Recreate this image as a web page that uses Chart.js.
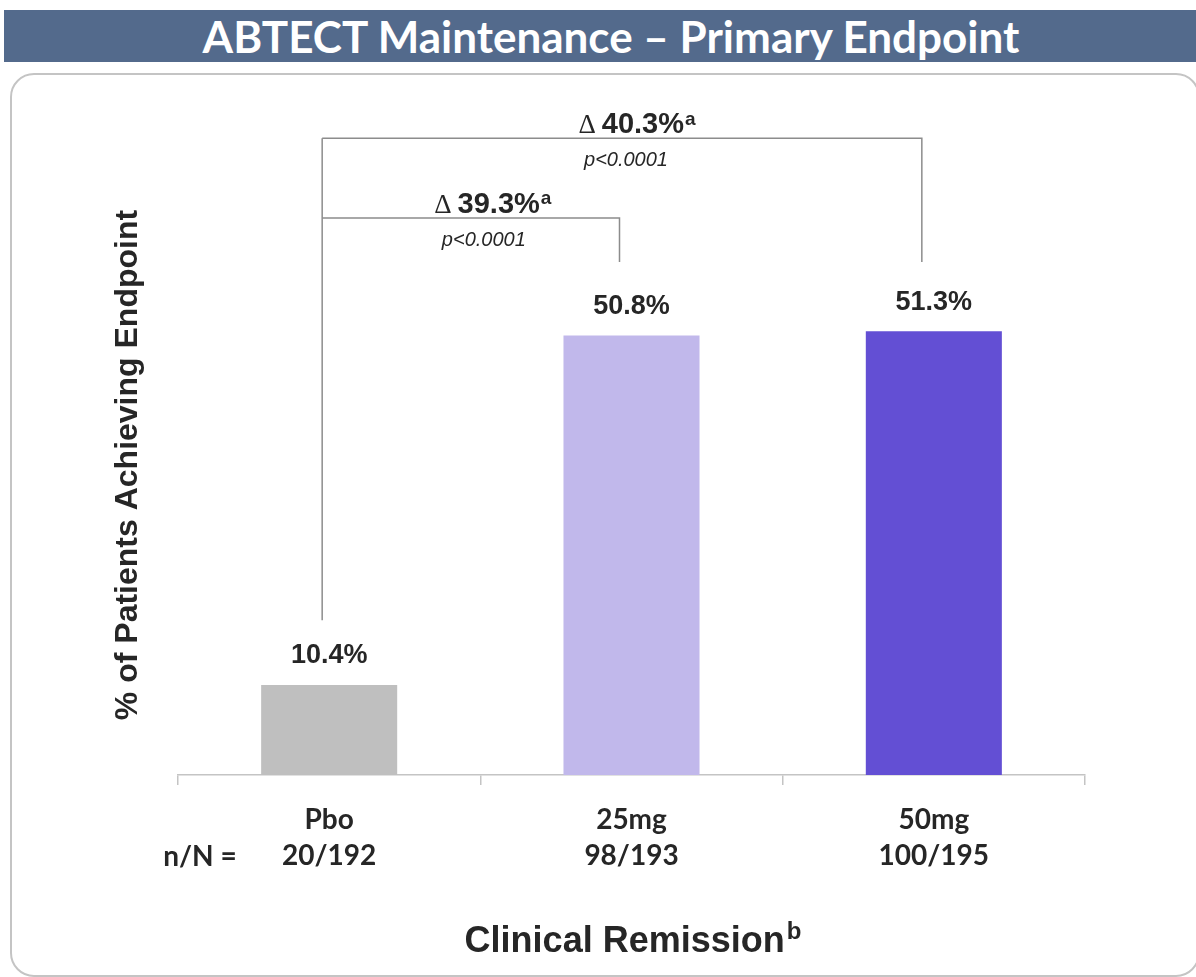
<!DOCTYPE html>
<html>
<head>
<meta charset="utf-8">
<script src="https://cdn.jsdelivr.net/npm/chart.js@4/dist/chart.umd.min.js"></script>
<style>
  body { margin: 0; width: 1196px; height: 977px; overflow: hidden; background: #fff; position: relative; }
  #bar { position: absolute; left: 4px; top: 10px; width: 1192px; height: 52px; background: #536a8c;
         color: #fff; font: bold 44px Lato, sans-serif; text-align: center; line-height: 52px;
         padding-left: 22px; box-sizing: border-box; }
  #panel { position: absolute; left: 10px; top: 73px; width: 1190px; height: 904px;
           border: 2px solid #c4c4c4; border-radius: 24px; box-sizing: border-box; }
  #wrap { position: absolute; left: 0; top: 0; width: 1196px; height: 977px; }
</style>
</head>
<body>
<div id="bar">ABTECT Maintenance – Primary Endpoint</div>
<div id="panel"></div>
<div id="wrap"><canvas id="render"></canvas></div>
<script>
const categories = ['Pbo', '25mg', '50mg'];
const counts = ['20/192', '98/193', '100/195'];
const remission = [10.4, 50.8, 51.3];
const barColors = ['#bfbfbf', '#c1b8eb', '#634fd4'];

// treatment comparisons vs placebo
const compareTo = [2, 1];
const deltas = ['40.3%', '39.3%'];
const pValues = ['p<0.0001', 'p<0.0001'];

const TEXT = '#262626';

const labelsPlugin = {
  id: 'labels',
  afterDatasetsDraw(chart) {
    const ctx = chart.ctx;
    const x = chart.scales.x, y = chart.scales.y;
    ctx.save();
    ctx.fillStyle = TEXT;
    ctx.textAlign = 'center';
    ctx.textBaseline = 'middle';

    // values above the bars
    ctx.font = 'bold 27px "Liberation Sans", Arial, sans-serif';
    chart.getDatasetMeta(0).data.forEach((bar, i) => {
      ctx.fillText(remission[i].toFixed(1) + '%', bar.x, bar.y - 29);
    });

    // brackets
    const levels = [73.6, 64.4];
    const legEnd = 59.3;
    const deltaShift = [15, 22];
    const pShift = [4, 13];
    const x0 = x.getPixelForValue(0) - 7;
    ctx.strokeStyle = '#8c8c8c';
    ctx.lineWidth = 1.5;
    ctx.beginPath();
    ctx.moveTo(x0, y.getPixelForValue(17.9));
    ctx.lineTo(x0, y.getPixelForValue(levels[0]));
    ctx.stroke();
    compareTo.forEach((c, k) => {
      const x1 = x.getPixelForValue(c) - 12;
      const yl = y.getPixelForValue(levels[k]);
      ctx.beginPath();
      ctx.moveTo(x0, yl);
      ctx.lineTo(x1, yl);
      ctx.lineTo(x1, y.getPixelForValue(legEnd));
      ctx.stroke();

      const mid = (x0 + x1) / 2;
      // delta label: Δ + value + superscript a
      const fBold = 'bold 29px "Liberation Sans", Arial, sans-serif';
      const fDelta = '27px "Liberation Serif", serif';
      const fSup = 'bold 19px "Liberation Sans", Arial, sans-serif';
      ctx.font = fDelta; const wD = ctx.measureText('\u0394').width + 6;
      ctx.font = fBold; const wV = ctx.measureText(deltas[k]).width;
      ctx.font = fSup; const wS = ctx.measureText('a').width + 1;
      let sx = mid + deltaShift[k] - (wD + wV + wS) / 2;
      const ty = yl - 13;
      ctx.textAlign = 'left';
      ctx.font = fDelta; ctx.fillText('\u0394', sx, ty + 1); sx += wD;
      ctx.font = fBold; ctx.fillText(deltas[k], sx, ty); sx += wV;
      ctx.font = fSup; ctx.fillText('a', sx + 1, ty - 6);
      ctx.textAlign = 'center';
      ctx.font = 'italic 20px "Liberation Sans", Arial, sans-serif';
      ctx.fillText(pValues[k], mid + pShift[k], yl + 22);
    });

    // n/N label
    ctx.font = 'bold 28px Lato, sans-serif';
    ctx.fillText('n/N =', 200, x.bottom - 120);

    // y axis title
    ctx.save();
    ctx.translate(128, 465);
    ctx.rotate(-Math.PI / 2);
    ctx.font = 'bold 32px "Liberation Sans", Arial, sans-serif';
    ctx.fillText('% of Patients Achieving Endpoint', 0, 0);
    ctx.restore();

    // x axis title with superscript b
    const ft = 'bold 36px "Liberation Sans", Arial, sans-serif';
    const fs = 'bold 24px "Liberation Sans", Arial, sans-serif';
    ctx.font = ft; const wt = ctx.measureText('Clinical Remission').width;
    ctx.font = fs; const wb = ctx.measureText('b').width;
    let tx = 632 - (wt + wb) / 2;
    ctx.textAlign = 'left';
    ctx.font = ft; ctx.fillText('Clinical Remission', tx, 942);
    ctx.font = fs; ctx.fillText('b', tx + wt + 2, 932);
    ctx.restore();
  }
};

new Chart(document.getElementById('render'), {
  type: 'bar',
  data: {
    labels: categories.map((c, i) => [c, counts[i]]),
    datasets: [{
      data: remission,
      backgroundColor: barColors,
      barPercentage: 0.45,
      categoryPercentage: 1
    }]
  },
  options: {
    responsive: true,
    maintainAspectRatio: false,
    animation: false,
    layout: { padding: { left: 178, right: 111, top: 83, bottom: 0 } },
    plugins: { legend: { display: false }, tooltip: { enabled: false } },
    scales: {
      x: {
        afterFit: s => { s.height = 202; },
        border: { display: true, color: '#c4c4c4', width: 1.5 },
        grid: { display: true, drawOnChartArea: false, drawTicks: true, tickLength: 10, color: '#c4c4c4', lineWidth: 1.5 },
        ticks: { color: TEXT, padding: 16, font: { family: 'Lato', weight: 'bold', size: 28, lineHeight: 1.32 } }
      },
      y: { display: false, min: 0, max: 80 }
    }
  },
  plugins: [labelsPlugin]
});
</script>
</body>
</html>
